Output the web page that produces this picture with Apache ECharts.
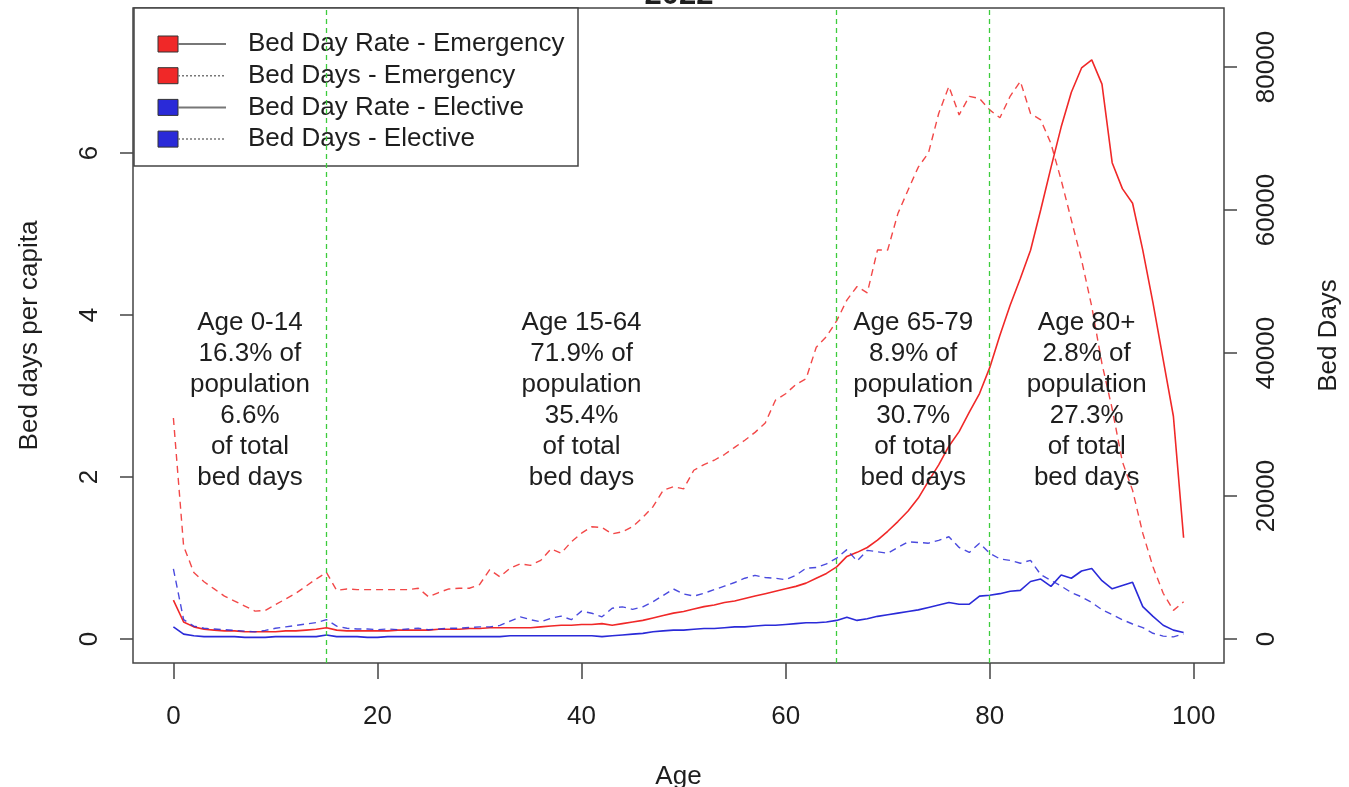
<!DOCTYPE html>
<html>
<head>
<meta charset="utf-8">
<script src="https://cdn.jsdelivr.net/npm/echarts@6/dist/echarts.min.js"></script>
<style>
html,body{margin:0;padding:0;background:#fff;}
#chart{width:1349px;height:787px;}
</style>
</head>
<body>
<div id="chart"></div>
<script>
var ages = [0,1,2,3,4,5,6,7,8,9,10,11,12,13,14,15,16,17,18,19,20,21,22,23,24,25,26,27,28,29,30,31,32,33,34,35,36,37,38,39,40,41,42,43,44,45,46,47,48,49,50,51,52,53,54,55,56,57,58,59,60,61,62,63,64,65,66,67,68,69,70,71,72,73,74,75,76,77,78,79,80,81,82,83,84,85,86,87,88,89,90,91,92,93,94,95,96,97,98,99];

var rateEmergency = [0.48,0.21,0.15,0.12,0.11,0.10,0.10,0.09,0.09,0.09,
  0.09,0.10,0.10,0.11,0.12,0.14,0.11,0.10,0.10,0.10,
  0.10,0.10,0.11,0.11,0.11,0.11,0.12,0.12,0.12,0.13,
  0.13,0.14,0.14,0.14,0.14,0.14,0.15,0.16,0.17,0.17,
  0.18,0.18,0.19,0.17,0.19,0.21,0.23,0.26,0.29,0.32,
  0.34,0.37,0.40,0.42,0.45,0.47,0.50,0.53,0.56,0.59,
  0.62,0.65,0.69,0.75,0.81,0.89,1.02,1.07,1.13,1.22,
  1.33,1.45,1.58,1.74,1.95,2.15,2.38,2.56,2.80,3.03,
  3.35,3.75,4.12,4.45,4.80,5.30,5.82,6.32,6.75,7.05,
  7.15,6.85,5.88,5.56,5.38,4.80,4.15,3.45,2.75,1.25];

var daysEmergency = [30900,13000,9300,8000,7000,6000,5300,4600,3900,4000,
  4800,5600,6400,7400,8400,9300,6800,7000,6900,6900,
  6900,6900,6900,6900,7100,5900,6500,7000,7100,7100,
  7600,9700,8700,9900,10500,10300,11000,12600,12000,13600,
  14800,15700,15600,14700,15000,15700,17000,18500,20800,21300,
  21000,23600,24400,25000,25800,26800,27800,28900,30200,33400,
  34300,35600,36400,40800,42300,44500,47400,49300,48400,54400,
  54400,59500,62800,66000,68000,73500,77300,73300,75900,75600,
  74000,72900,75900,78000,73500,72600,69300,64200,58600,53000,
  46500,38500,32200,24800,20800,14800,10100,6400,4000,5200];

var rateElective = [0.15,0.06,0.04,0.03,0.03,0.03,0.03,0.02,0.02,0.02,
  0.03,0.03,0.03,0.03,0.03,0.05,0.03,0.03,0.03,0.02,
  0.02,0.03,0.03,0.03,0.03,0.03,0.03,0.03,0.03,0.03,
  0.03,0.03,0.03,0.04,0.04,0.04,0.04,0.04,0.04,0.04,
  0.04,0.04,0.03,0.04,0.05,0.06,0.07,0.09,0.10,0.11,
  0.11,0.12,0.13,0.13,0.14,0.15,0.15,0.16,0.17,0.17,
  0.18,0.19,0.20,0.20,0.21,0.23,0.27,0.23,0.25,0.28,
  0.30,0.32,0.34,0.36,0.39,0.42,0.45,0.43,0.43,0.53,
  0.54,0.56,0.59,0.60,0.71,0.74,0.65,0.79,0.75,0.84,
  0.87,0.72,0.62,0.66,0.70,0.40,0.28,0.17,0.11,0.08];

var daysElective = [9800,2700,1800,1500,1400,1300,1200,1100,1000,1200,
  1500,1700,1900,2100,2300,2700,1800,1500,1400,1400,
  1300,1400,1300,1400,1500,1300,1400,1500,1500,1600,
  1700,1700,1900,2500,3100,2700,2400,2900,3200,2700,
  3900,3600,3100,4300,4500,4150,4500,5200,6100,7000,
  6300,6000,6400,6900,7400,7900,8500,8900,8600,8500,
  8300,8900,9900,10000,10500,11300,12500,10900,12400,12200,
  12000,12800,13600,13500,13400,13800,14300,12800,12100,13400,
  12000,11200,11000,10600,11000,9000,8200,7400,6500,5900,
  5100,4100,3400,2700,2100,1600,800,400,300,700];

var seriesNames = ['Bed Day Rate - Emergency','Bed Days - Emergency','Bed Day Rate - Elective','Bed Days - Elective'];
var ageBreaks = [15, 65, 80];
var xTicks = [0, 20, 40, 60, 80, 100];
var leftTicks = [0, 2, 4, 6];
var rightTicks = [0, 20000, 40000, 60000, 80000];
var groupCentres = [7.5, 40, 72.5, 89.5];
var groupLabelY = [3, 3, 3, 3];
var groupTexts = [
  'Age 0-14\n16.3% of\npopulation\n6.6%\nof total\nbed days',
  'Age 15-64\n71.9% of\npopulation\n35.4%\nof total\nbed days',
  'Age 65-79\n8.9% of\npopulation\n30.7%\nof total\nbed days',
  'Age 80+\n2.8% of\npopulation\n27.3%\nof total\nbed days'
];
var titleText = '2022';

var FONT = 'Liberation Sans, Arial, sans-serif';
var RED = '#f02828';
var BLUE = '#2a2ad8';
var TXT = '#1e1e1e';

function pairs(vals){ return ages.map(function(a,i){ return [a, vals[i]]; }); }
function plain(v){ return String(v); }

var chart = echarts.init(document.getElementById('chart'));

var legendColors = [RED, RED, BLUE, BLUE];
var legendDotted = [false, true, false, true];
var legendChildren = [{
  type:'rect', shape:{x:134, y:8, width:444, height:158},
  style:{fill:'#fff', stroke:'#444', lineWidth:1.5}
}];
seriesNames.forEach(function(n, i){
  var cy = 44 + i*31.7;
  legendChildren.push({type:'rect', shape:{x:158, y:cy-8, width:20, height:16},
    style:{fill:legendColors[i], stroke:'#333', lineWidth:1}});
  legendChildren.push({type:'line', shape:{x1:178, y1:cy, x2:226, y2:cy},
    style:{stroke:'#777', lineWidth: legendDotted[i] ? 1.5 : 2, lineDash: legendDotted[i] ? [2,2] : null}});
  legendChildren.push({type:'text', x:248, y:cy,
    style:{text:n, fill:TXT, font:'26px ' + FONT, textVerticalAlign:'middle', textAlign:'left'}});
});

var tickStyle = {color:'#444', width:1.5};

var option = {
  backgroundColor:'#fff',
  animation:false,
  grid:{left:133, width:1091, top:8, height:655, show:true, borderColor:'#444', borderWidth:1.5,
        backgroundColor:'transparent', containLabel:false, outerBoundsMode:'none'},
  xAxis:{
    type:'value', min:-3.96, max:102.96,
    name:'Age', nameLocation:'middle', nameGap:101,
    nameTextStyle:{fontSize:26, color:TXT, fontFamily:FONT},
    axisLine:{show:false, onZero:false},
    axisTick:{show:true, inside:false, length:16, lineStyle:tickStyle, customValues:xTicks},
    axisLabel:{fontSize:26, color:TXT, fontFamily:FONT, margin:41, customValues:xTicks, formatter:plain},
    splitLine:{show:false}
  },
  yAxis:[{
    type:'value', position:'left', min:-0.296, max:7.79,
    name:'Bed days per capita', nameLocation:'middle', nameGap:90,
    nameTextStyle:{fontSize:26, color:TXT, fontFamily:FONT},
    axisLine:{show:false, onZero:false},
    axisTick:{show:true, inside:false, length:13, lineStyle:tickStyle, customValues:leftTicks},
    axisLabel:{fontSize:26, color:TXT, fontFamily:FONT, rotate:90, margin:30, customValues:leftTicks, formatter:plain},
    splitLine:{show:false}
  },{
    type:'value', position:'right', min:-3357, max:88252,
    name:'Bed Days', nameLocation:'middle', nameGap:92,
    nameTextStyle:{fontSize:26, color:TXT, fontFamily:FONT},
    axisLine:{show:false, onZero:false},
    axisTick:{show:true, inside:false, length:13, lineStyle:tickStyle, customValues:rightTicks},
    axisLabel:{fontSize:26, color:TXT, fontFamily:FONT, rotate:90, margin:30, customValues:rightTicks, formatter:plain},
    splitLine:{show:false}
  }],
  series:[
    {name:seriesNames[0], type:'line', yAxisIndex:0, data:pairs(rateEmergency), showSymbol:false, symbol:'none',
     lineStyle:{color:RED, width:1.6}, z:3,
     markLine:{silent:true, symbol:['none','none'], label:{show:false},
       lineStyle:{color:'#3ccc3c', width:1.3, type:[5,4]},
       data: ageBreaks.map(function(v){ return {xAxis:v}; })}},
    {name:seriesNames[1], type:'line', yAxisIndex:1, data:pairs(daysEmergency), showSymbol:false, symbol:'none',
     lineStyle:{color:RED, width:1.4, type:[7,5], opacity:0.85}, z:3},
    {name:seriesNames[2], type:'line', yAxisIndex:0, data:pairs(rateElective), showSymbol:false, symbol:'none',
     lineStyle:{color:BLUE, width:1.6}, z:3},
    {name:seriesNames[3], type:'line', yAxisIndex:1, data:pairs(daysElective), showSymbol:false, symbol:'none',
     lineStyle:{color:BLUE, width:1.4, type:[7,5], opacity:0.85}, z:3},
    {name:'groups', type:'scatter', yAxisIndex:0, symbolSize:0, itemStyle:{color:TXT, opacity:1}, z:5, silent:true,
     data: groupCentres.map(function(x,i){ return {value:[x, groupLabelY[i]], label:{formatter:groupTexts[i]}}; }),
     label:{show:true, position:[0,0], offset:[0,4], fontSize:26, lineHeight:31, color:TXT, opacity:1, textBorderWidth:0,
       fontFamily:FONT, align:'center', verticalAlign:'middle'}}
  ],
  graphic:[
    {type:'text', x:679, y:11, z:10,
     style:{text:titleText, fill:TXT, font:'bold 31px ' + FONT, textAlign:'center', textVerticalAlign:'bottom'}},
    {type:'group', z:20, children:legendChildren}
  ]
};
chart.setOption(option);
</script>
</body>
</html>
